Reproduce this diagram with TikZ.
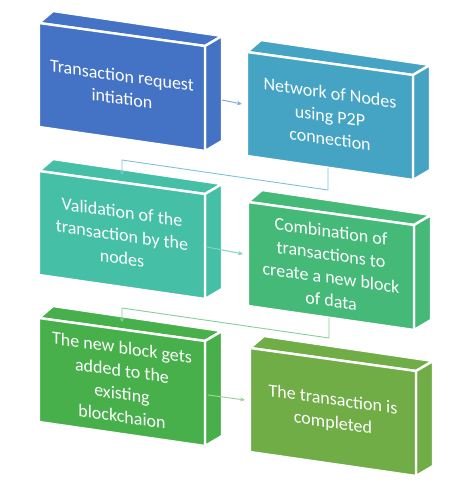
\documentclass[tikz,border=0pt]{standalone}
\usepackage{fontspec}
\setmainfont{Carlito}
\usetikzlibrary{arrows.meta,calc}
\definecolor{c1}{HTML}{4472C4}
\definecolor{c2}{HTML}{45A3C3}
\definecolor{c3}{HTML}{45BFA6}
\definecolor{c4}{HTML}{45B978}
\definecolor{c5}{HTML}{47B04A}
\definecolor{c6}{HTML}{70AD47}
\definecolor{k1}{HTML}{8EA9DB}
\definecolor{k2}{HTML}{7CC3D7}
\definecolor{k3}{HTML}{80D4C0}
\definecolor{k4}{HTML}{83CF9E}
\definecolor{k5}{HTML}{A0D49E}
\tikzset{
  face/.style={fill=#1, draw=white, line width=2.4pt, line join=miter},
  txt/.style={text=white, align=center, yslant=-0.14, font=\fontsize{18}{23}\selectfont, inner sep=0pt},
  conn/.style={draw=#1, line width=1pt, -{Stealth[length=5pt,width=4.5pt]}},
  elbow/.style={draw=#1, line width=0.9pt, -{Stealth[length=4pt,width=4pt]}}
}
\newcommand{\myblock}[5]{%
  \begin{scope}[shift={(#2,#3)}]
    \path[face=#4] (0,0) -- (166,23) -- (183,13) -- (14,-12) -- cycle;
    \path[face=#4] (166,23) -- (183,13) -- (183,118) -- (166,128) -- cycle;
    \path[face=#4] (0,0) -- (166,23) -- (166,128) -- (0,104) -- cycle;
    \node[txt] (#1) at (83,64) {#5};
    \coordinate (#1-in) at (-5,52);
    \coordinate (#1-bot) at (81,116);
    \coordinate (#1-top) at (83,4);
  \end{scope}}
\begin{document}
\begin{tikzpicture}[x=1pt,y=-1pt]
\useasboundingbox (0,0) rectangle (458,494);
\myblock{b1}{39}{23}{c1}{Transaction request\\intiation}
\myblock{b2}{247}{52}{c2}{Network of Nodes\\using P2P\\connection}
\myblock{b3}{39}{171}{c3}{Validation of the\\transaction by the\\nodes}
\myblock{b4}{248}{202}{c4}{Combination of\\transactions to\\create a new block\\of data}
\myblock{b5}{39}{318}{c5}{The new block gets\\added to the\\existing\\blockchaion}
\myblock{b6}{250}{348}{c6}{The transaction is\\completed}
\coordinate (o1) at (222,100);
\coordinate (o3) at (207,247);
\coordinate (o5) at (208,395);
\draw[conn=k1] (o1) -- (b2-in);
\draw[conn=k3] (o3) -- (b4-in);
\draw[conn=k5] (o5) -- (b6-in);
\draw[elbow=k2] (b2-bot) -- ($(b2-bot)+(0,22)$) -- ($(b3-top)+(0,-15)$) -- (b3-top);
\draw[elbow=k4] (b4-bot) -- ($(b4-bot)+(0,20)$) -- ($(b5-top)+(0,-14)$) -- (b5-top);
\end{tikzpicture}
\end{document}
